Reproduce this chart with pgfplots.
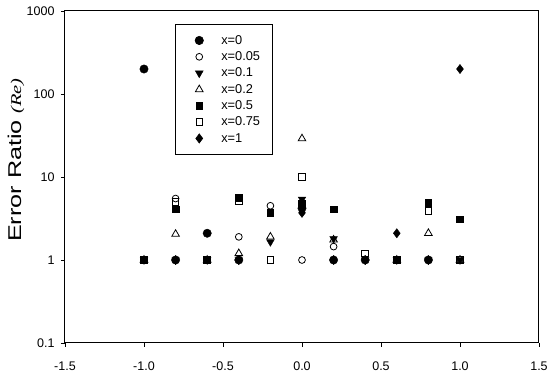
\documentclass[border=0pt]{standalone}
\usepackage{pgfplots}
\pgfplotsset{compat=1.18}
\usepackage{fontspec}
\setmainfont{Liberation Sans}
\newfontfamily\tnr{Liberation Serif}
\pgfplotsset{
  mk/.style={only marks, legend image code/.code={\path[draw=none] (0pt,0pt) -- (24pt,0pt); \draw[##1] plot coordinates {(14pt,0pt)};}},
}
\begin{document}
\begin{tikzpicture}
\useasboundingbox (-65pt,-31pt) rectangle (485pt,343pt);
\begin{axis}[
  at={(0,0)}, anchor=south west,
  scale only axis, width=474pt, height=332pt,
  xmin=-1.5, xmax=1.5,
  ymode=log, ymin=0.1, ymax=1000,
  xtick={-1.5,-1,-0.5,0,0.5,1,1.5},
  xticklabels={-1.5,-1.0,-0.5,0.0,0.5,1.0,1.5},
  ytick={0.1,1,10,100,1000},
  yticklabels={0.1,1,10,100,1000},
  yminorticks=false,
  tick pos=left,
  tick align=outside,
  major tick length=4pt,
  tick style={black, line width=0.8pt},
  axis line style={black, line width=1pt},
  ticklabel style={font=\fontsize{12.5}{14}\selectfont},
  xticklabel style={yshift=-11pt},
  yticklabel style={xshift=-3pt},
  ylabel={\fontsize{18.5}{20}\selectfont Error Ratio\hspace{5pt}{\tnr\itshape\fontsize{15}{17}\selectfont (Re)}},
  ylabel style={at={(axis cs:-1.81,16)}, anchor=center, xscale=1.36},
  clip=false,
  legend cell align=left,
  legend style={at={(rel axis cs:0.232,0.961)}, anchor=north west,
    draw=black, line width=0.6pt,
    font=\fontsize{12.8}{14}\selectfont,
    inner xsep=10pt, inner ysep=9pt, row sep=1.9pt, column sep=10pt},
]
\addplot[mk, mark=*, mark size=4.2pt, black] coordinates {
 (-1,200) (-0.8,1) (-0.6,2.1) (-0.4,1) (0,4.2) (0.2,1) (0.4,1) (0.8,1)};
\addlegendentry{x=0}
\addplot[mk, mark=o, mark size=3.4pt, black, mark options={fill=white, line width=0.8pt}] coordinates {
 (-1,1) (-0.8,5.5) (-0.6,1) (-0.4,1.9) (-0.2,4.5) (0,1) (0.2,1.45) (0.6,1) (1,1)};
\addlegendentry{x=0.05}
\addplot[mk, mark=triangle*, mark size=4.4pt, black, mark options={rotate=180}] coordinates {
 (-1,1) (-0.8,1) (-0.6,1) (-0.4,1) (-0.2,1.65) (0,5.4) (0.2,1.8) (0.4,1) (0.6,1) (0.8,1) (1,1)};
\addlegendentry{x=0.1}
\addplot[mk, mark=triangle, mark size=4.4pt, black, mark options={fill=white, line width=0.8pt}] coordinates {
 (-1,1) (-0.8,2.05) (-0.6,1) (-0.4,1.2) (-0.2,1.9) (0,29) (0.2,1.75) (0.6,1) (0.8,2.1) (1,1)};
\addlegendentry{x=0.2}
\addplot[mk, mark=square*, mark size=3.3pt, black] coordinates {
 (-1,1) (-0.8,4.1) (-0.6,1) (-0.4,5.6) (-0.2,3.7) (0,4.8) (0.2,4.1) (0.6,1) (0.8,4.9) (1,3.1)};
\addlegendentry{x=0.5}
\addplot[mk, mark=square, mark size=3.3pt, black, mark options={fill=white, line width=0.8pt}] coordinates {
 (-1,1) (-0.8,5.0) (-0.6,1) (-0.4,5.1) (-0.2,1) (0,10) (0.4,1.2) (0.6,1) (0.8,3.9) (1,1)};
\addlegendentry{x=0.75}
\addplot[mk, mark=diamond*, mark size=4.6pt, black] coordinates {
 (-0.8,1) (-0.4,1) (0,3.7) (0.2,1) (0.4,1) (0.6,2.1) (0.8,1) (1,200)};
\addlegendentry{x=1}
\end{axis}
\end{tikzpicture}
\end{document}
